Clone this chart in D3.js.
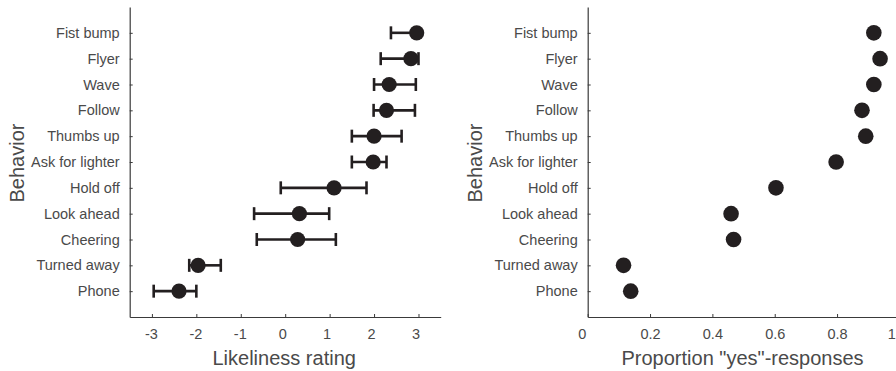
<!DOCTYPE html>
<html>
<head>
<meta charset="utf-8">
<script src="https://cdn.jsdelivr.net/npm/d3@7"></script>
<style>
  html, body { margin: 0; padding: 0; background: #fff; }
  svg { display: block; }
  text { font-family: "Liberation Sans", Arial, Helvetica, sans-serif; fill: #4a4a4a; }
</style>
</head>
<body>
<svg id="chart" width="896" height="371"></svg>
<script>
const behaviors = ["Fist bump", "Flyer", "Wave", "Follow", "Thumbs up", "Ask for lighter",
                   "Hold off", "Look ahead", "Cheering", "Turned away", "Phone"];
const ratingMean  = [2.96, 2.83, 2.34, 2.28, 2.00, 1.98, 1.10, 0.32, 0.28, -1.96, -2.39];
const ratingLower = [2.38, 2.15, 2.00, 1.99, 1.50, 1.50, -0.10, -0.70, -0.64, -2.16, -2.96];
const ratingUpper = [2.98, 3.00, 2.94, 2.92, 2.62, 2.28, 1.83, 0.99, 1.14, -1.45, -2.00];
const proportionYes = [0.918, 0.938, 0.918, 0.880, 0.892, 0.797, 0.604, 0.460, 0.468, 0.115, 0.138];
const ratingTicks = [-3, -2, -1, 0, 1, 2, 3];
const proportionTicks = [0, 0.2, 0.4, 0.6, 0.8, 1];

const svg = d3.select("#chart");
const dotColor = "#231f20";
const axisColor = "#3a3a3a";
const plotTop = 7, plotBottom = 317;

const y = d3.scaleLinear().domain([0, behaviors.length + 1]).range([plotTop, plotBottom]);
const yPos = i => y(i + 1);

function panel(opts) {
  const g = svg.append("g");
  const x = d3.scaleLinear().domain(opts.domain).range(opts.range);

  // y axis
  const yAxis = d3.axisLeft(y).tickValues(d3.range(1, behaviors.length + 1))
    .tickFormat(d => behaviors[d - 1]).tickSizeInner(-3).tickSizeOuter(0).tickPadding(10);
  const ya = g.append("g").attr("transform", `translate(${opts.range[0]},0)`).call(yAxis);
  ya.select(".domain").attr("stroke", axisColor).attr("stroke-width", 1.2);
  ya.selectAll(".tick line").attr("stroke", axisColor).attr("stroke-width", 1);
  ya.selectAll(".tick text").style("font-size", "14.5px").attr("fill", "#4a4a4a");

  // x axis
  const xAxis = d3.axisBottom(x).tickValues(opts.ticks).tickFormat(opts.fmt)
    .tickSizeInner(-3).tickSizeOuter(0).tickPadding(12);
  const xa = g.append("g").attr("transform", `translate(0,${plotBottom})`).call(xAxis);
  xa.select(".domain").attr("stroke", axisColor).attr("stroke-width", 1.2);
  xa.selectAll(".tick line").attr("stroke", axisColor).attr("stroke-width", 1);
  xa.selectAll(".tick text").style("font-size", "14.5px").attr("fill", "#4a4a4a")
    .attr("dx", opts.labelShift);

  // titles
  const cx = (opts.range[0] + opts.range[1]) / 2;
  g.append("text").attr("x", cx - 1).attr("y", 365).attr("text-anchor", "middle")
    .style("font-size", "20px").text(opts.xTitle);
  g.append("text").attr("transform", `translate(${opts.range[0] - 106},${(plotTop + plotBottom) / 2 + 1}) rotate(-90)`)
    .attr("text-anchor", "middle").style("font-size", "20px").text("Behavior");
  return { g, x };
}

// Left panel
const L = panel({
  domain: [-3.5, 3.5], range: [129.7, 440.7], ticks: ratingTicks,
  fmt: d => String(d), xTitle: "Likeliness rating",
  labelShift: d => (d < 0 ? -1 : -3)
});
const capH = 6.5;
const eb = L.g.append("g").attr("stroke", dotColor).attr("stroke-width", 2.6).attr("fill", "none");
behaviors.forEach((b, i) => {
  const yy = yPos(i);
  eb.append("line").attr("x1", L.x(ratingLower[i])).attr("x2", L.x(ratingUpper[i]))
    .attr("y1", yy).attr("y2", yy);
  eb.append("line").attr("x1", L.x(ratingLower[i])).attr("x2", L.x(ratingLower[i]))
    .attr("y1", yy - capH).attr("y2", yy + capH);
  eb.append("line").attr("x1", L.x(ratingUpper[i])).attr("x2", L.x(ratingUpper[i]))
    .attr("y1", yy - capH).attr("y2", yy + capH);
});
L.g.append("g").selectAll("circle").data(ratingMean).join("circle")
  .attr("cx", d => L.x(d)).attr("cy", (d, i) => yPos(i)).attr("r", 7.6).attr("fill", dotColor);

// Right panel
const R = panel({
  domain: [0, 1], range: [587.7, 899.4], ticks: proportionTicks,
  fmt: d => (d === 0 || d === 1 ? String(d) : d3.format(".1f")(d)), xTitle: "Proportion \"yes\"-responses",
  labelShift: d => (d === 0 ? -6 : d === 1 ? -8 : 0)
});
R.g.append("g").selectAll("circle").data(proportionYes).join("circle")
  .attr("cx", d => R.x(d)).attr("cy", (d, i) => yPos(i)).attr("r", 7.8).attr("fill", dotColor);
</script>
</body>
</html>
